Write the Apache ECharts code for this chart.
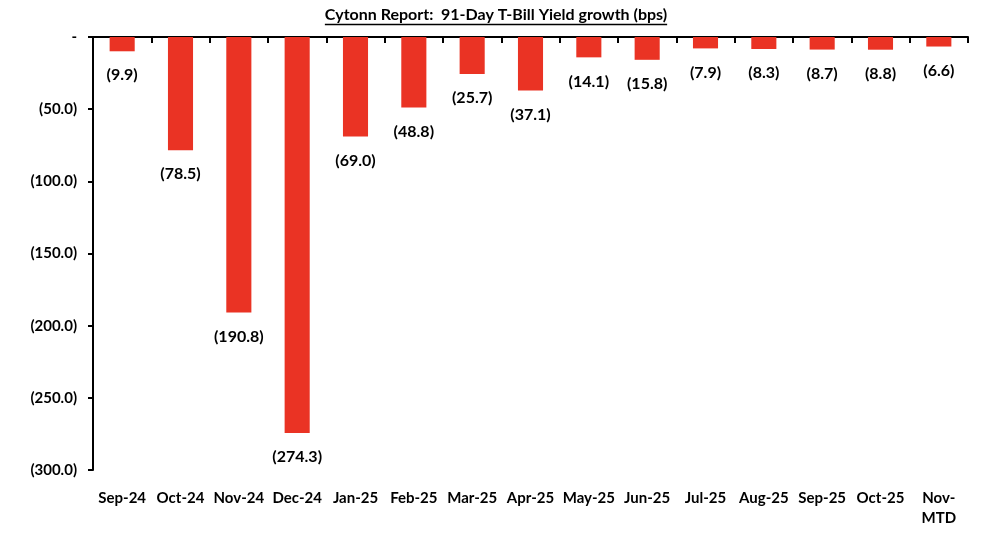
<!DOCTYPE html>
<html>
<head>
<meta charset="utf-8">
<script src="https://cdn.jsdelivr.net/npm/echarts@6/dist/echarts.min.js"></script>
<style>
html,body{margin:0;padding:0;background:#fff;}
#c{width:992px;height:542px;}
</style>
</head>
<body>
<div id="c"></div>
<script>
var categories = ['Sep-24','Oct-24','Nov-24','Dec-24','Jan-25','Feb-25','Mar-25','Apr-25','May-25','Jun-25','Jul-25','Aug-25','Sep-25','Oct-25','Nov-\nMTD'];
var values = [-9.9,-78.5,-190.8,-274.3,-69.0,-48.8,-25.7,-37.1,-14.1,-15.8,-7.9,-8.3,-8.7,-8.8,-6.6];
var yTicks = {min:-300, max:0, interval:50};
var titleText = 'Cytonn Report:  91-Day T-Bill Yield growth (bps)';

var FONT = 'Lato';
function fmt(v){ return v === 0 ? '-' : '(' + Math.abs(v).toFixed(1) + ')'; }

var cv = document.createElement('canvas').getContext('2d');
cv.font = 'bold 16px ' + FONT;
var tw = cv.measureText(titleText).width;

var chart = echarts.init(document.getElementById('c'), null, {renderer:'canvas'});
chart.setOption({
  animation:false,
  backgroundColor:'#fff',
  graphic:[
    {type:'text', left:'center', top:7, style:{text:titleText, font:'bold 16px ' + FONT, fill:'#000'}},
    {type:'line', shape:{x1:496 - tw/2, y1:24.5, x2:496 + tw/2, y2:24.5}, style:{stroke:'#000', lineWidth:1.4}}
  ],
  grid:{left:93, right:24, top:37, bottom:72, containLabel:false},
  xAxis:[
    {type:'category', data:categories, position:'top',
     axisLine:{show:true, onZero:false, lineStyle:{color:'#000', width:2}},
     axisTick:{show:true, inside:true, length:6, lineStyle:{color:'#000', width:2}},
     axisLabel:{show:false}},
    {type:'category', data:categories, position:'bottom',
     axisLine:{show:false}, axisTick:{show:false},
     axisLabel:{show:true, interval:0, margin:18, color:'#000', fontFamily:FONT, fontWeight:'bold', fontSize:15, lineHeight:20}}
  ],
  yAxis:{type:'value', min:yTicks.min, max:yTicks.max, interval:yTicks.interval,
    axisLine:{show:true, lineStyle:{color:'#000', width:2}},
    axisTick:{show:true, length:5, lineStyle:{color:'#000', width:2}},
    splitLine:{show:false},
    axisLabel:{formatter:fmt, color:'#000', fontFamily:FONT, fontWeight:'bold', fontSize:15, margin:16}
  },
  series:[{
    type:'bar', data:values, barWidth:'43%', xAxisIndex:0,
    itemStyle:{color:'#EA3324'},
    label:{show:true, position:'bottom', distance:16, formatter:function(p){return fmt(p.value);},
      color:'#000', fontFamily:FONT, fontWeight:'bold', fontSize:16}
  }]
});
</script>
</body>
</html>
